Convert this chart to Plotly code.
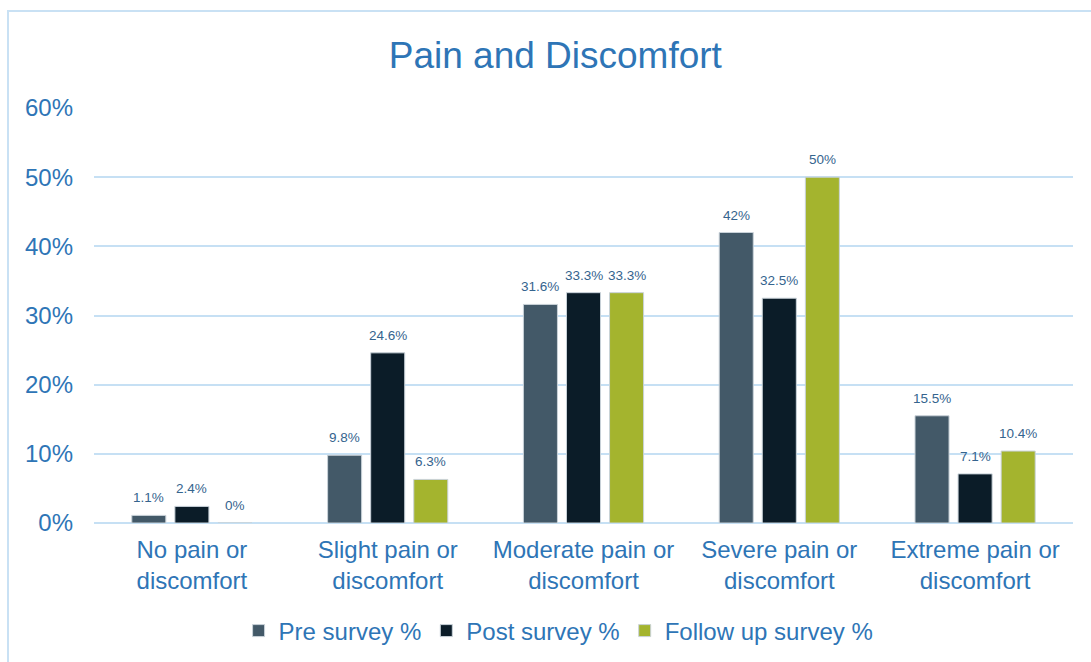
import plotly.graph_objects as go

categories = ["No pain or<br>discomfort", "Slight pain or<br>discomfort",
              "Moderate pain or<br>discomfort", "Severe pain or<br>discomfort",
              "Extreme pain or<br>discomfort"]
series_names = ["Pre survey %", "Post survey %", "Follow up survey %"]
pre_survey = [1.1, 9.8, 31.6, 42.0, 15.5]
post_survey = [2.4, 24.6, 33.3, 32.5, 7.1]
follow_up_survey = [0.0, 6.3, 33.3, 50.0, 10.4]
y_ticks = [0, 10, 20, 30, 40, 50, 60]
y_tick_labels = ["0%", "10%", "20%", "30%", "40%", "50%", "60%"]

colors = ["#435968", "#0b1c28", "#a4b42e"]
label_color = "#2e75b6"
value_color = "#35648e"
grid_color = "#c6e0f4"
font_family = "Liberation Sans, Arial, sans-serif"

W, H = 1091, 662
M_L, M_R, M_T, M_B = 94, 18, 108, 139
plot_w = W - M_L - M_R
plot_h = H - M_T - M_B

fig = go.Figure()
all_series = [pre_survey, post_survey, follow_up_survey]
for name, vals, col in zip(series_names, all_series, colors):
    fig.add_trace(go.Bar(
        x=categories, y=[v / 100 for v in vals], name=name,
        marker=dict(color=col, line=dict(color="#c9d2d9", width=1)),
        hoverinfo="skip",
    ))

# value labels above each bar, shifted to its slot within the group
bargap, bargroupgap = 0.34, 0.21
slot = plot_w / len(categories) * (1 - bargap) / len(series_names)
for i, vals in enumerate(all_series):
    shift = (i - 1) * slot
    for cat, v in zip(categories, vals):
        fig.add_annotation(
            x=cat, y=v / 100, text=f"{v:g}%", showarrow=False,
            xshift=shift, yshift=8, yanchor="bottom",
            font=dict(size=13.5, color=value_color, family=font_family),
        )

# outer frame around the chart
fx0 = (8 - M_L) / plot_w
fx1 = (W + 5 - M_L) / plot_w
fy1 = (H - M_B - 11) / plot_h
fy0 = -(M_B + 10) / plot_h
fig.add_shape(type="rect", xref="paper", yref="paper",
              x0=fx0, x1=fx1, y0=fy0, y1=fy1,
              line=dict(color="#c9e1f4", width=2), layer="below")

fig.update_layout(
    width=W, height=H,
    margin=dict(l=M_L, r=M_R, t=M_T, b=M_B, autoexpand=False),
    paper_bgcolor="white", plot_bgcolor="white",
    barmode="group", bargap=bargap, bargroupgap=bargroupgap,
    font=dict(family=font_family, color=label_color),
    title=dict(text="Pain and Discomfort", x=0.509, xanchor="center",
               y=1 - 55 / H, yanchor="middle", yref="container",
               font=dict(size=37, color=label_color, family=font_family)),
    legend=dict(orientation="h", xref="container", yref="container",
                x=0.512, xanchor="center", y=1 - 631 / H, yanchor="middle",
                font=dict(size=24, color=label_color, family=font_family),
                itemwidth=30, traceorder="normal"),
    showlegend=True,
    xaxis=dict(showgrid=False, showline=False, ticks="",
               tickfont=dict(size=24, color=label_color, family=font_family),
               ticklabelstandoff=10),
    yaxis=dict(range=[0, 0.6], tickvals=[t / 100 for t in y_ticks],
               ticktext=y_tick_labels, showgrid=True, gridcolor=grid_color,
               gridwidth=2, zeroline=True, zerolinecolor=grid_color,
               zerolinewidth=2, showline=False, ticks="",
               tickfont=dict(size=24, color=label_color, family=font_family),
               ticklabelstandoff=20),
)

fig.write_html("out.html")
